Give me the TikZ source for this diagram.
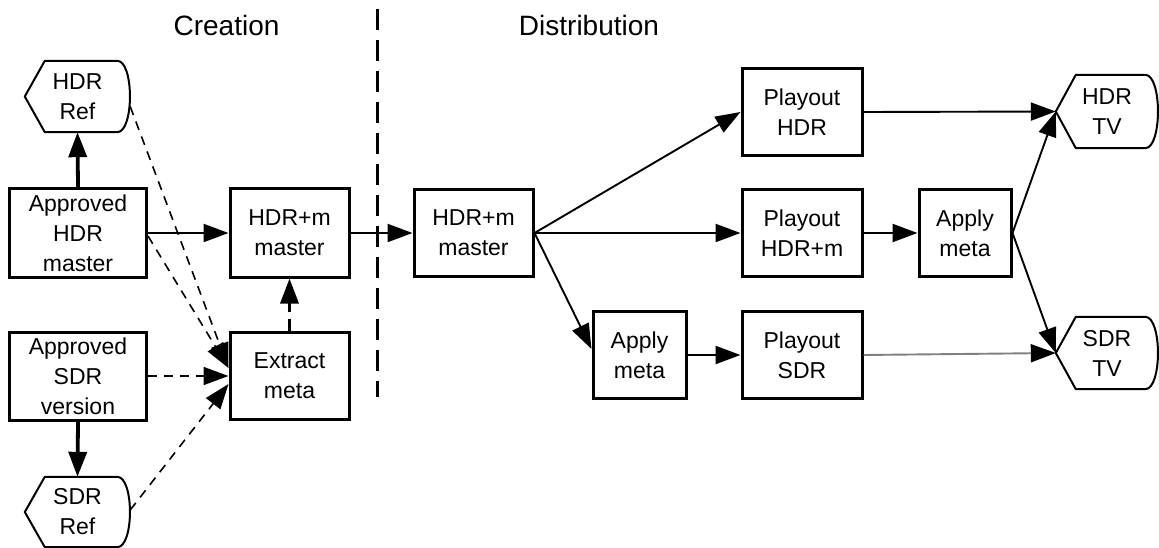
\documentclass[tikz,border=0pt]{standalone}
\usepackage{fontspec}
\setmainfont{Liberation Sans}
\usetikzlibrary{arrows.meta,calc}

% outline of a display symbol: pointed left end, rounded right end
\newcommand\dispoutline[1]{%
  \draw[line width=2pt,line join=round]
    (#1.west) -- ([xshift=20pt]#1.north west) -- ([xshift=-13pt]#1.north east)
    .. controls ([xshift=4pt]#1.north east) and ([xshift=4pt]#1.south east) ..
    ([xshift=-13pt]#1.south east) -- ([xshift=20pt]#1.south west) -- cycle;}

\tikzset{
  boxfont/.style={font=\fontsize{23}{30}\selectfont},
  box/.style={boxfont, draw, line width=3pt, inner sep=0pt, align=center,
    minimum width=119pt, minimum height=87pt},
  disp/.style={boxfont, inner sep=0pt, align=center,
    minimum width=105pt, minimum height=71pt},
  title/.style={font=\fontsize{28}{32}\selectfont, inner sep=0pt},
  tip/.style={-{Triangle[length=25pt,width=18pt,color=black]}},
  flow/.style={tip, line width=2.4pt},
  heavy/.style={tip, line width=3.8pt},
  light/.style={tip, line width=1.9pt},
  feed/.style={tip, line width=1.6pt, dash pattern=on 9pt off 7pt},
  heavyfeed/.style={tip, line width=3.4pt, dash pattern=on 12pt off 7pt},
  divider/.style={line width=3pt, dash pattern=on 21pt off 10pt},
}

\begin{document}
\begin{tikzpicture}[x=1pt,y=-1pt]
\useasboundingbox (0,0) rectangle (1159,548);

% section titles and divider
\node[title] (creation) at (226.5,25) {Creation};
\node[title] (distribution) at (589,25) {Distribution};
\coordinate (divtop) at (377,9);
\coordinate (divbot) at (377,397);
\draw[divider] (divtop) -- (divbot);

% creation side
\node[box, minimum width=137pt, minimum height=88pt] (ahdr) at (78,233) {Approved\\HDR\\master};
\node[box, minimum width=137pt, minimum height=88pt] (asdr) at (78,376) {Approved\\SDR\\version};
\node[box, minimum height=88pt] (hdrm1) at (289.5,233) {HDR+m\\master};
\node[box] (extract) at (289.5,376) {Extract\\meta};
\node[disp] (hdrref) at (77.5,96.5) {HDR\\Ref};
\node[disp, minimum height=70pt] (sdrref) at (77.5,512) {SDR\\Ref};
\dispoutline{hdrref}
\dispoutline{sdrref}

% distribution side
\node[box] (hdrm2) at (473.5,233) {HDR+m\\master};
\node[box, minimum width=120pt] (phdr) at (802,112) {Playout\\HDR};
\node[box, minimum width=120pt] (phdrm) at (802,233) {Playout\\HDR+m};
\node[box, minimum width=120pt] (psdr) at (802,355) {Playout\\SDR};
\node[box, minimum width=92pt] (apply1) at (965,233) {Apply\\meta};
\node[box, minimum width=93pt] (apply2) at (639.5,355) {Apply\\meta};
\node[disp, minimum width=102pt, minimum height=73pt] (hdrtv) at (1107,111.5) {HDR\\TV};
\node[disp, minimum width=102pt, minimum height=72pt] (sdrtv) at (1107,353) {SDR\\TV};
\dispoutline{hdrtv}
\dispoutline{sdrtv}

% creation connectors
\draw[heavy] (ahdr.north) -- (hdrref.south);
\draw[heavy] (asdr.south) -- (sdrref.north);
\draw[flow] (ahdr.east) -- (hdrm1.west);
\draw[heavyfeed] (extract.north) -- (hdrm1.south);
\draw[feed] ([yshift=-10pt]hdrref.east) -- ([yshift=8pt]extract.west);
\draw[feed] ([yshift=-3pt]ahdr.east) -- ([yshift=8pt]extract.west);
\draw[feed] (asdr.east) -- (extract.west);
\draw[feed] ([yshift=2pt]sdrref.east) -- ([yshift=-8pt]extract.west);
\draw[flow] (hdrm1.east) -- (hdrm2.west);

% distribution connectors
\draw[light] (hdrm2.east) -- (phdr.west);
\draw[flow] (hdrm2.east) -- (phdrm.west);
\draw[light] (hdrm2.east) -- ([yshift=6pt]apply2.west);
\draw[flow] (apply2.east) -- (psdr.west);
\draw[flow] (phdrm.east) -- (apply1.west);
\draw[light] (phdr.east) -- (hdrtv.west);
\draw[light] (apply1.east) -- (hdrtv.west);
\draw[light] (apply1.east) -- (sdrtv.west);
\draw[light, draw=black!50] (psdr.east) -- (sdrtv.west);
\end{tikzpicture}
\end{document}
